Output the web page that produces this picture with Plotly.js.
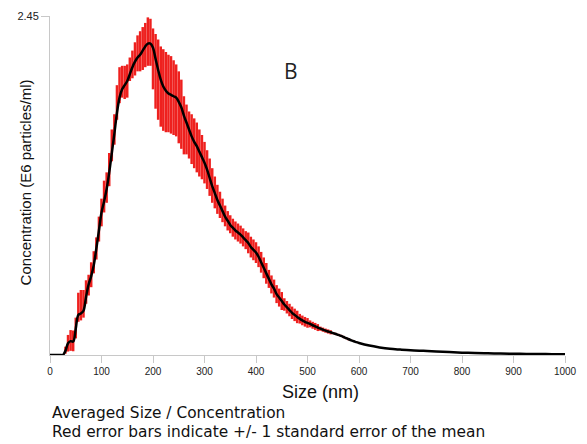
<!DOCTYPE html>
<html>
<head>
<meta charset="utf-8">
<script src="https://cdn.plot.ly/plotly-3.0.1.min.js"></script>
<style>html,body{margin:0;padding:0;background:#fff;}#chart{width:587px;height:444px;}</style>
</head>
<body>
<div id="chart"></div>
<script>
var sizeNm = [0,5,10,15,20,25,
30,35,40,45,50,55,60,65,70,75,80,85,90,95,100,
105,110,115,120,125,130,135,140,145,150,155,160,165,170,175,180,185,190,195,200,
205,210,215,220,225,230,235,240,245,250,255,260,265,270,275,280,285,290,295,300,
305,310,315,320,325,330,335,340,345,350,355,360,365,370,375,380,385,390,395,400,
405,410,415,420,425,430,435,440,445,450,455,460,465,470,475,480,485,490,495,500,
505,510,515,520,525,530,535,540,545,550,555,560,565,570,575,580,585,590,595,600,
620,640,660,680,700,725,750,775,800,825,850,875,900,925,950,975,1000];

var concentration = [0,0,0,0,0,0,
0.03,0.085,0.10,0.097,0.19,0.29,0.30,0.32,0.42,0.51,0.57,0.65,0.77,0.90,1.03,
1.11,1.20,1.32,1.46,1.60,1.75,1.86,1.92,1.95,1.98,2.03,2.08,2.12,2.15,2.17,2.20,2.23,2.25,2.25,2.22,
2.14,2.06,1.99,1.94,1.91,1.89,1.88,1.87,1.86,1.83,1.79,1.73,1.68,1.63,1.58,1.54,1.51,1.47,1.43,1.39,
1.34,1.28,1.22,1.17,1.12,1.08,1.04,1.00,0.97,0.94,0.92,0.90,0.885,0.87,0.85,0.83,0.81,0.78,0.76,0.74,
0.71,0.67,0.63,0.59,0.55,0.51,0.48,0.44,0.415,0.39,0.365,0.345,0.325,0.305,0.29,0.275,0.262,0.25,0.24,0.232,
0.225,0.215,0.207,0.198,0.19,0.183,0.176,0.17,0.164,0.158,0.152,0.145,0.138,0.13,0.122,0.114,0.106,0.099,0.093,0.087,
0.068,0.055,0.045,0.039,0.034,0.030,0.026,0.021,0.017,0.014,0.012,0.010,0.009,0.008,0.007,0.006,0.005];

var errPlus = [0,0,0,0,0,0,
0.03,0.06,0.08,0.08,0.08,0.16,0.17,0.15,0.12,0.07,0.10,0.10,0.08,0.10,0.10,
0.15,0.12,0.14,0.17,0.14,0.20,0.22,0.17,0.14,0.12,0.12,0.12,0.14,0.16,0.17,0.17,0.17,0.19,0.18,0.14,
0.18,0.22,0.24,0.27,0.28,0.28,0.28,0.26,0.24,0.22,0.20,0.14,0.13,0.13,0.16,0.17,0.17,0.16,0.16,0.15,
0.14,0.14,0.13,0.12,0.11,0.10,0.09,0.08,0.07,0.07,0.065,0.065,0.065,0.065,0.065,0.065,0.075,0.075,0.075,0.075,
0.075,0.075,0.075,0.075,0.065,0.065,0.065,0.065,0.065,0.065,0.045,0.045,0.045,0.045,0.045,0.045,0.035,0.035,0.035,0.035,
0.025,0.025,0.025,0.025,0.015,0.015,0.015,0.015,0.015,0.008,0.008,0.008,0.008,0.008,0.008,0.008,0.004,0.004,0.004,0.004,
0,0,0,0,0,0,0,0,0,0,0,0,0,0,0,0,0];

var errMinus = [0,0,0,0,0,0,
0.02,0.06,0.07,0.07,0.07,0.05,0.05,0.05,0.05,0.08,0.08,0.06,0.08,0.08,0.10,
0.08,0.10,0.10,0.06,0.08,0.05,0.04,0.06,0.10,0.12,0.05,0.08,0.10,0.10,0.12,0.14,0.15,0.16,0.16,0.30,
0.36,0.36,0.34,0.32,0.30,0.28,0.28,0.28,0.28,0.30,0.30,0.28,0.23,0.21,0.20,0.19,0.19,0.18,0.16,0.15,
0.14,0.13,0.12,0.11,0.10,0.09,0.08,0.07,0.07,0.06,0.065,0.065,0.065,0.065,0.065,0.065,0.075,0.075,0.075,0.075,
0.075,0.075,0.075,0.075,0.065,0.065,0.065,0.065,0.065,0.065,0.045,0.045,0.045,0.045,0.045,0.045,0.035,0.035,0.035,0.035,
0.025,0.025,0.025,0.025,0.015,0.015,0.015,0.015,0.015,0.008,0.008,0.008,0.008,0.008,0.008,0.008,0.004,0.004,0.004,0.004,
0,0,0,0,0,0,0,0,0,0,0,0,0,0,0,0,0];

var xTickVals = [0,100,200,300,400,500,600,700,800,900,1000];
var yTickVals = [2.45];
var yTickText = ['2.45'];

var traces = [
  {
    x: sizeNm, y: concentration, type: 'scatter', mode: 'markers',
    marker: {size: 1, color: 'rgba(0,0,0,0)'},
    error_y: {type: 'data', symmetric: false, array: errPlus, arrayminus: errMinus,
              color: 'rgb(238,32,30)', thickness: 2.5, width: 0},
    hoverinfo: 'skip', showlegend: false
  },
  {
    x: sizeNm, y: concentration, type: 'scatter', mode: 'lines',
    line: {color: '#000', width: 2.5, shape: 'spline', smoothing: 1},
    showlegend: false
  }
];

var layout = {
  width: 587, height: 444,
  margin: {l: 50, r: 22, t: 16, b: 89},
  paper_bgcolor: '#fff', plot_bgcolor: '#fff',
  font: {family: '"Liberation Sans", Arial, sans-serif', color: '#222'},
  showlegend: false,
  xaxis: {
    range: [0, 1000], tickvals: xTickVals, ticks: 'outside', ticklen: 7,
    tickcolor: '#c8c8c8', tickwidth: 1, showline: true, linecolor: '#c8c8c8', linewidth: 1,
    showgrid: false, zeroline: false, tickfont: {size: 10, color: '#222'}
  },
  yaxis: {
    range: [0, 2.45], tickvals: yTickVals, ticktext: yTickText, ticks: 'outside', ticklen: 8,
    tickcolor: '#c8c8c8', tickwidth: 1, showline: true, linecolor: '#c8c8c8', linewidth: 1,
    showgrid: false, zeroline: false, tickfont: {size: 11, color: '#222'}
  },
  annotations: [
    {text: 'Concentration (E6 particles/ml)', xref: 'paper', yref: 'paper',
     x: -0.048, y: 0.51, xanchor: 'center', yanchor: 'middle', textangle: -90,
     showarrow: false, font: {size: 15, color: '#111'}},
    {text: 'Size (nm)', xref: 'paper', yref: 'paper', x: 0.526, y: -0.109,
     xanchor: 'center', yanchor: 'middle', showarrow: false, font: {size: 18, color: '#111'}},
    {text: 'Averaged Size / Concentration', xref: 'paper', yref: 'paper', x: 0, y: -0.1710,
     xanchor: 'left', yanchor: 'middle', showarrow: false,
     font: {family: '"DejaVu Sans", sans-serif', size: 15.4, color: '#111'}},
    {text: 'Red error bars indicate +/- 1 standard error of the mean', xref: 'paper', yref: 'paper',
     x: 0, y: -0.2286, xanchor: 'left', yanchor: 'middle', showarrow: false,
     font: {family: '"DejaVu Sans", sans-serif', size: 15.4, color: '#111'}},
    {text: 'B', xref: 'paper', yref: 'paper', x: 0.468, y: 0.839, xanchor: 'center', yanchor: 'middle',
     showarrow: false, font: {family: '"Open Sans", sans-serif', size: 21, color: '#222'}}
  ]
};

Plotly.newPlot('chart', traces, layout, {displayModeBar: false, staticPlot: true});
</script>
</body>
</html>
